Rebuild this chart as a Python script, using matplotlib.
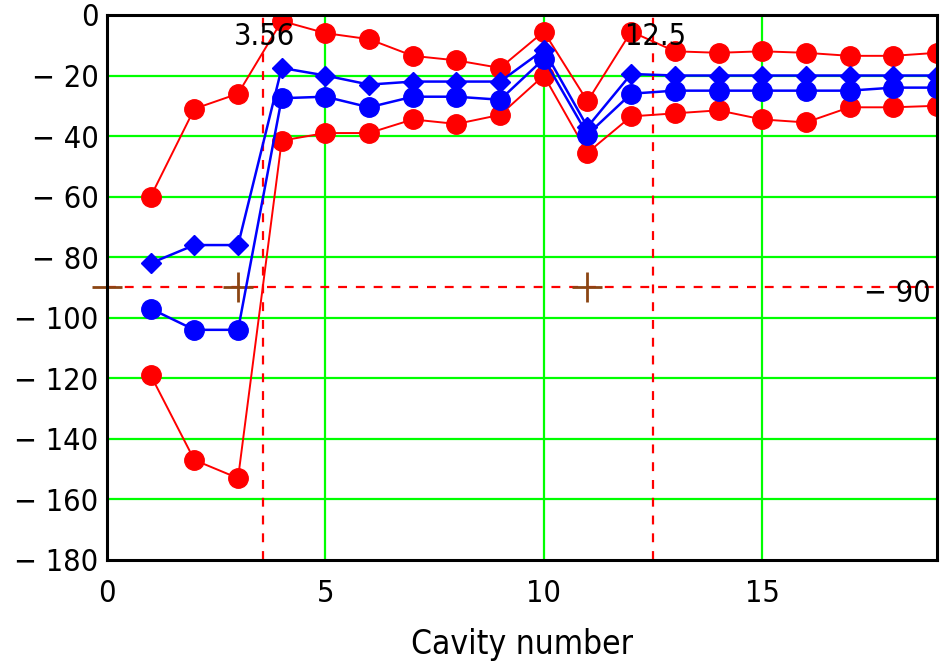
import matplotlib
matplotlib.use("Agg")
import matplotlib.pyplot as plt

plt.rcParams['font.family'] = ['Liberation Sans Narrow', 'DejaVu Sans']
plt.rcParams['font.stretch'] = 'condensed'

cavity = list(range(1, 20))

red_upper = [-60, -31, -26, -2, -6, -8, -13.5, -15, -17.5, -5.5, -28.5, -5.5,
             -12, -12.5, -12, -12.5, -13.5, -13.5, -12.5]
blue_upper = [-82, -76, -76, -17.5, -20, -23, -22, -22, -22, -11.5, -37, -19.5,
              -20, -20, -20, -20, -20, -20, -20]
blue_lower = [-97, -104, -104, -27.5, -27, -30.5, -27, -27, -28, -14.5, -39.5, -26,
              -25, -25, -25, -25, -25, -24, -24]
red_lower = [-119, -147, -153, -41.5, -39, -39, -34.5, -36, -33, -20, -45.5, -33.5,
             -32.5, -31.5, -34.5, -35.5, -30.5, -30.5, -30]

x_markers = [3.56, 12.5]
y_marker = -90
trace_x = [0, 3, 11]

yticks = [0, -20, -40, -60, -80, -100, -120, -140, -160, -180]
ytick_labels = ['0' if v == 0 else '\u2212 ' + str(-v) for v in yticks]
xticks = [0, 5, 10, 15]

fig = plt.figure(figsize=(9.42, 6.65), dpi=100)
ax = fig.add_axes([0.1136, 0.158, 0.881, 0.8195])

ax.set_xlim(0, 19)
ax.set_ylim(-180, 0)

# green grid
for v in yticks[1:-1]:
    ax.axhline(v, color='#00ff00', lw=1.6, zorder=1)
for v in xticks[1:]:
    ax.axvline(v, color='#00ff00', lw=1.6, zorder=1)

# marker lines
for v in x_markers:
    ax.axvline(v, color='red', lw=1.6, dashes=(4, 4), zorder=2)
    ax.text(v + 0.05, -7, str(v), ha='center', va='center', fontsize=22, zorder=6)
ax.axhline(y_marker, color='red', lw=1.6, dashes=(4, 4), zorder=2)
ax.text(18.85, -92, '\u2212 90', ha='right', va='center', fontsize=22, zorder=6)
ax.plot(trace_x, [y_marker] * len(trace_x), ls='none', marker='+', ms=22, mew=2,
        color='#8b4513', zorder=3, clip_on=False)

ax.plot(cavity, red_upper, color='red', lw=1.4, marker='o', ms=14, zorder=4)
ax.plot(cavity, red_lower, color='red', lw=1.4, marker='o', ms=14, zorder=4)
ax.plot(cavity, blue_upper, color='blue', lw=1.8, marker='D', ms=10, zorder=5)
ax.plot(cavity, blue_lower, color='blue', lw=1.8, marker='o', ms=14, zorder=5)

ax.set_yticks(yticks)
ax.set_yticklabels(ytick_labels)
ax.set_xticks(xticks)
ax.tick_params(length=0, labelsize=22)
ax.tick_params(axis='y', pad=6)
ax.tick_params(axis='x', pad=14)
ax.set_xlabel('Cavity number', fontsize=24, labelpad=14)

for s in ax.spines.values():
    s.set_linewidth(2.2)
    s.set_zorder(7)

fig.savefig('out.png', dpi=100)
